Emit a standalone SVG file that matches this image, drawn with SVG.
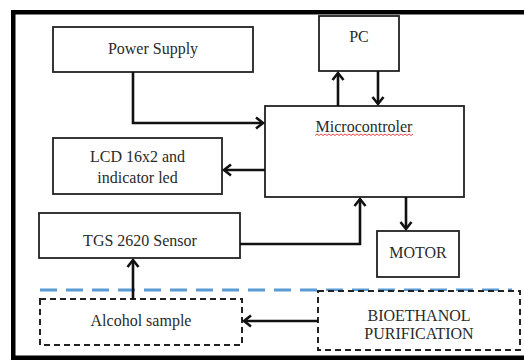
<svg xmlns="http://www.w3.org/2000/svg" width="524" height="362" viewBox="0 0 524 362">
<defs>
<style>
.box{fill:#fff;stroke:#222;stroke-width:1.8}
.dbox{fill:#fff;stroke:#222;stroke-width:2;stroke-dasharray:6 4}
.c{fill:none;stroke:#111;stroke-width:2.6;marker-end:url(#ah)}
</style>
<marker id="ah" markerUnits="userSpaceOnUse" orient="auto" refX="0" refY="0" markerWidth="20" markerHeight="20" viewBox="-10 -10 20 20" overflow="visible">
<path d="M-7,-5.5 L0,0 L-7,5.5" fill="none" stroke="#111" stroke-width="2.6"/>
</marker>
</defs>
<rect width="524" height="362" fill="#fff"/>
<g id="frame" fill="#000">
<rect x="11" y="10" width="513" height="4.5"/>
<rect x="11" y="10" width="4.5" height="350"/>
<rect x="11" y="355.5" width="513" height="4.5"/>
</g>
<line id="divider" x1="40" y1="290" x2="512" y2="290" stroke="#5b9bd5" stroke-width="3" stroke-dasharray="17 9"/>
<g id="power">
<rect class="box" x="53" y="27" width="200" height="45"/>
<text x="153" y="54" font-family="Liberation Serif" font-size="16" text-anchor="middle" fill="#2a2a2a">Power Supply</text>
</g>
<g id="pc">
<rect class="box" x="319" y="16" width="80" height="55"/>
<text x="359" y="42" font-family="Liberation Serif" font-size="16" text-anchor="middle" fill="#2a2a2a">PC</text>
</g>
<g id="micro">
<rect class="box" x="265" y="106" width="199" height="91"/>
<text x="364" y="132" font-family="Liberation Serif" font-size="16" text-anchor="middle" fill="#2a2a2a">Microcontroler</text>
<path d="M315,135.5 l2,-1.5 l2,1.5 l2,-1.5 l2,1.5 l2,-1.5 l2,1.5 l2,-1.5 l2,1.5 l2,-1.5 l2,1.5 l2,-1.5 l2,1.5 l2,-1.5 l2,1.5 l2,-1.5 l2,1.5 l2,-1.5 l2,1.5 l2,-1.5 l2,1.5 l2,-1.5 l2,1.5 l2,-1.5 l2,1.5 l2,-1.5 l2,1.5 l2,-1.5 l2,1.5 l2,-1.5 l2,1.5 l2,-1.5 l2,1.5 l2,-1.5 l2,1.5 l2,-1.5 l2,1.5 l2,-1.5 l2,1.5 l2,-1.5 l2,1.5 l2,-1.5 l2,1.5 l2,-1.5 l2,1.5 l2,-1.5 l2,1.5 l2,-1.5 l2,1.5 l2,-1.5" fill="none" stroke="#e03030" stroke-width="0.9"/>
</g>
<g id="lcd">
<rect class="box" x="53" y="138" width="169" height="56"/>
<text x="137.5" y="162" font-family="Liberation Serif" font-size="16" text-anchor="middle" fill="#2a2a2a">LCD 16x2 and</text>
<text x="137.5" y="183" font-family="Liberation Serif" font-size="16" text-anchor="middle" fill="#2a2a2a">indicator led</text>
</g>
<g id="sensor">
<rect class="box" x="39" y="213" width="201" height="45"/>
<text x="140" y="246" font-family="Liberation Serif" font-size="16" text-anchor="middle" fill="#2a2a2a">TGS 2620 Sensor</text>
</g>
<g id="motor">
<rect class="box" x="377" y="231" width="82" height="46"/>
<text x="418" y="258" font-family="Liberation Serif" font-size="16" text-anchor="middle" fill="#2a2a2a">MOTOR</text>
</g>
<g id="alcohol">
<rect class="dbox" x="40" y="299" width="202" height="46"/>
<text x="141" y="326" font-family="Liberation Serif" font-size="16" text-anchor="middle" fill="#2a2a2a">Alcohol sample</text>
</g>
<g id="bio">
<rect class="dbox" x="318" y="291" width="202" height="59"/>
<text x="419" y="321" font-family="Liberation Serif" font-size="16" text-anchor="middle" fill="#2a2a2a">BIOETHANOL</text>
<text x="419" y="339" font-family="Liberation Serif" font-size="16" text-anchor="middle" fill="#2a2a2a">PURIFICATION</text>
</g>
<g id="connectors">
<path class="c" d="M133,72 V123 H263"/>
<path class="c" d="M265,170 H224"/>
<path class="c" d="M338,106 V73"/>
<path class="c" d="M378,71 V104"/>
<path class="c" d="M240,244 H360 V199"/>
<path class="c" d="M406,197 V229"/>
<path class="c" d="M133,299 V260"/>
<path class="c" d="M318,321 H244"/>
</g>
</svg>
